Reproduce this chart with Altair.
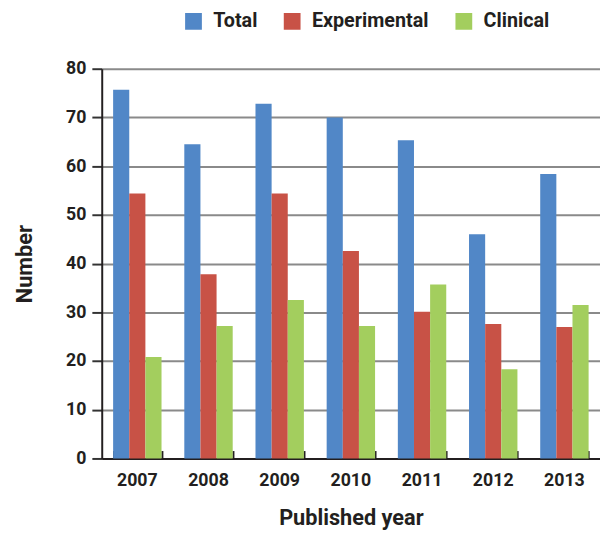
import altair as alt
import pandas as pd

years = ["2007", "2008", "2009", "2010", "2011", "2012", "2013"]
total = [75.7, 64.5, 72.8, 70.0, 65.3, 46.0, 58.4]
experimental = [54.4, 37.8, 54.4, 42.6, 30.1, 27.6, 27.0]
clinical = [20.8, 27.2, 32.5, 27.2, 35.7, 18.3, 31.5]
series = ["Total", "Experimental", "Clinical"]
colors = ["#5187C7", "#C85246", "#A3CE5E"]

rows = []
for i, y in enumerate(years):
    for s, vals in zip(series, [total, experimental, clinical]):
        rows.append({"year": y, "type": s, "value": vals[i]})
df = pd.DataFrame(rows)

FONT = "Roboto"
TXT = "#231f20"

xscale = alt.Scale(paddingInner=0.32, paddingOuter=0.16)

base = alt.Chart(df)

bars = base.mark_bar().encode(
    x=alt.X("year:N", scale=xscale,
            axis=alt.Axis(title="Published year", labelAngle=0, ticks=False,
                          domainColor="#231f20", domainWidth=2,
                          labelFont=FONT, labelFontSize=18, labelFontWeight="bold",
                          labelColor=TXT, labelPadding=13,
                          titleFont=FONT, titleFontSize=22, titleFontWeight="bold",
                          titleColor=TXT, titlePadding=19)),
    xOffset=alt.XOffset("type:N", sort=series),
    y=alt.Y("value:Q", scale=alt.Scale(domain=[0, 80]),
            axis=alt.Axis(title="Number", values=list(range(0, 81, 10)),
                          grid=True, gridColor="#8a8a8a", gridWidth=2,
                          domainColor="#231f20", domainWidth=2,
                          tickColor="#333333", tickWidth=2, tickSize=10,
                          labelFont=FONT, labelFontSize=18, labelFontWeight="bold",
                          labelColor=TXT, labelPadding=6,
                          titleFont=FONT, titleFontSize=22, titleFontWeight="bold",
                          titleColor=TXT, titlePadding=30)),
    color=alt.Color("type:N", sort=series,
                    scale=alt.Scale(domain=series, range=colors),
                    legend=alt.Legend(title=None, orient="none", direction="horizontal",
                                      legendX=83, legendY=-58,
                                      symbolType="square", symbolSize=289,
                                      symbolStrokeWidth=0, symbolOpacity=1,
                                      labelFont=FONT, labelFontSize=20,
                                      labelFontWeight="bold", labelColor=TXT,
                                      labelOffset=10, columnPadding=25)),
)

ticks_layer = base.mark_bar(opacity=0).encode(
    x=alt.X("year:N", scale=xscale,
            axis=alt.Axis(title=None, labels=False, domain=False, orient="bottom",
                          ticks=True, tickBand="extent", tickSize=8, tickWidth=2,
                          tickColor="#231f20", offset=-8)),
    xOffset=alt.XOffset("type:N", sort=series),
    y=alt.Y("value:Q", axis=None),
)

chart = alt.layer(bars, ticks_layer).resolve_axis(
    x="independent", y="independent"
).properties(
    width=505, height=395,
    padding={"left": 5, "top": 0, "right": 0, "bottom": 0},
).configure_view(stroke=None).configure_axis(gridCap="butt")

chart.save("out.html", embed_options={"renderer": "svg", "actions": False})
